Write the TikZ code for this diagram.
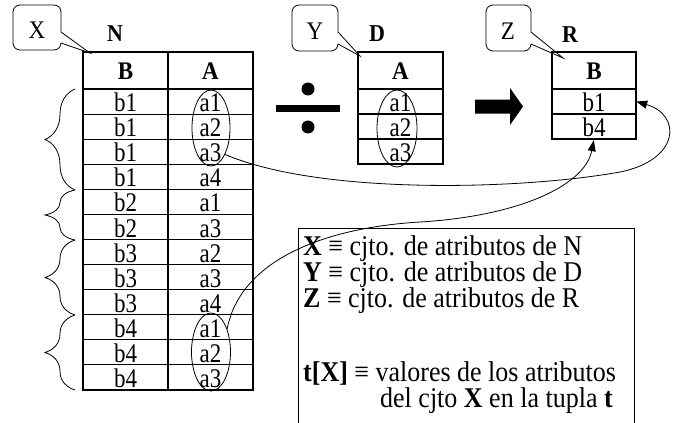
\documentclass[tikz,border=0pt]{standalone}
\usepackage{graphicx}
\usepackage{fontspec}
\setmainfont{Liberation Serif}
\usetikzlibrary{shapes.geometric,arrows.meta,decorations.pathreplacing}

% text set slightly taller than its natural proportions
\newcommand{\tallA}[1]{\scalebox{1}[1.17]{#1}}
\newcommand{\tallB}[1]{\scalebox{1}[1.1]{#1}}

\begin{document}
\begin{tikzpicture}[x=1pt,y=-1pt,
  grid/.style={line width=1.1pt},
  cell/.style={anchor=base, inner sep=0pt, font=\fontsize{23}{23}\selectfont},
  head/.style={anchor=base, inner sep=0pt, font=\fontsize{23}{23}\selectfont\bfseries},
  title/.style={anchor=base, inner sep=0pt, font=\fontsize{22}{22}\selectfont\bfseries},
  callout/.style={line width=0.8pt, rounded corners=7pt},
  calltext/.style={anchor=base, inner sep=0pt, font=\fontsize{23}{23}\selectfont},
  group/.style={ellipse, draw, line width=0.8pt, inner sep=0pt},
  slot/.style={inner sep=0pt, minimum width=84pt, minimum height=25pt},
  conn/.style={line width=0.8pt, -{Triangle[length=11pt,width=8pt]}},
  brace/.style={line width=0.8pt, decorate, decoration={brace, amplitude=30pt}},
  info/.style={anchor=base west, inner sep=0pt, font=\fontsize{26}{26}\selectfont}
]
\useasboundingbox (0,0) rectangle (683,423);

% ---- table N ----
\draw[grid] (83,52) rectangle (253,390);
\draw[grid] (168,52) -- (168,390);
\foreach \i in {0,...,11} \draw[grid] (83,{89+25.083*\i}) -- (253,{89+25.083*\i});
\node[head] (NhB) at (125.5,79) {\tallB{B}};
\node[head] (NhA) at (210.5,79) {\tallB{A}};
\foreach \b/\a [count=\i] in {b1/a1,b1/a2,b1/a3,b1/a4,b2/a1,b2/a3,b3/a2,b3/a3,b3/a4,b4/a1,b4/a2,b4/a3} {
  \node[cell] (NB\i) at (125.5,{89+25.083*\i-2.5}) {\tallA{\b}};
  \node[cell] (NA\i) at (210.5,{89+25.083*\i-2.5}) {\tallA{\a}};
}
\node[title] (Nt) at (115,41) {\tallB{N}};
\node[group, minimum width=38pt, minimum height=76pt] (gN1) at (211,128) {};
\node[group, minimum width=39pt, minimum height=78pt] (gN2) at (211,352) {};

% ---- braces grouping the tuples of N ----
\draw[brace] (75,190) -- (75,89);
\draw[brace] (75,240) -- (75,190);
\draw[brace] (75,315) -- (75,240);
\draw[brace] (75,390) -- (75,315);

% ---- division sign ----
\fill (276,105) rectangle (340,111.5);
\fill (308,89) circle (6.5);
\fill (308,127) circle (6.5);

% ---- table D ----
\draw[grid] (358,52) rectangle (443,164);
\foreach \y in {89,114,139} \draw[grid] (358,\y) -- (443,\y);
\node[head] (DhA) at (400.5,79) {\tallB{A}};
\foreach \a [count=\i] in {a1,a2,a3}
  \node[cell] (DA\i) at (400.5,{89+25*\i-2.5}) {\tallA{\a}};
\node[title] (Dt) at (377,41) {\tallB{D}};
\node[group, minimum width=40pt, minimum height=77pt] (gD) at (397,128.5) {};

% ---- result arrow ----
\fill (475,99.5) -- (510,99.5) -- (510,88) -- (523,106.5) -- (510,125) -- (510,113.5) -- (475,113.5) -- cycle;

% ---- table R ----
\draw[grid] (552,52) rectangle (636,139);
\foreach \y in {89,114} \draw[grid] (552,\y) -- (636,\y);
\node[head] (RhB) at (594,79) {\tallB{B}};
\node[cell] (RB1) at (594,111.5) {\tallA{b1}};
\node[cell] (RB2) at (594,136.5) {\tallA{b4}};
\node[slot] (R1) at (594,101.5) {};
\node[slot] (R2) at (594,126.5) {};
\node[title] (Rt) at (570,42) {\tallB{R}};

% ---- callouts X, Y, Z ----
\draw[callout] (61,43) -- (61,50) -- (13,50) -- (13,5) -- (61,5) -- (61,32);
\draw[line width=0.8pt] (61,32) -- (90,53) -- (61,43);
\node[calltext] (cX) at (37,38) {\tallB{X}};
\draw[callout] (338,44) -- (338,51) -- (292,51) -- (292,5) -- (338,5) -- (338,32);
\draw[line width=0.8pt] (338,32) -- (360,56) -- (338,44);
\node[calltext] (cY) at (315,39) {\tallB{Y}};
\draw[callout] (531,44) -- (531,51) -- (486,51) -- (486,5) -- (531,5) -- (531,32);
\draw[line width=0.8pt] (531,32) -- (563,58) -- (531,44);
\node[calltext] (cZ) at (508,39) {\tallB{Z}};

% ---- legend box ----
\draw[line width=0.8pt] (298,430) -- (298,228) -- (634,228) -- (634,430);
\node[info] (l1) at (303,255) {\tallB{\textbf{X} ≡ cjto. de atributos de N}};
\node[info] (l2) at (303,281) {\tallB{\textbf{Y} ≡ cjto. de atributos de D}};
\node[info] (l3) at (303,307) {\tallB{\textbf{Z} ≡ cjto. de atributos de R}};
\node[info] (l4) at (303,381) {\tallB{\textbf{t[X]} ≡ valores de los atributos}};
\node[info] (l5) at (380,407) {\tallB{del cjto \textbf{X} en la tupla \textbf{t}}};

% ---- connectors from the groups to the result tuples ----
\draw[conn] (gN1.-62) .. controls (320,195) and (520,190) .. (620,172)
  .. controls (680,160) and (682,115) .. (R1.east);
\draw[conn, shorten >=1pt] (gN2.55) .. controls (240,262) and (320,228) .. (420,222)
  .. controls (520,216) and (585,185) .. (R2.south);
\end{tikzpicture}
\end{document}
